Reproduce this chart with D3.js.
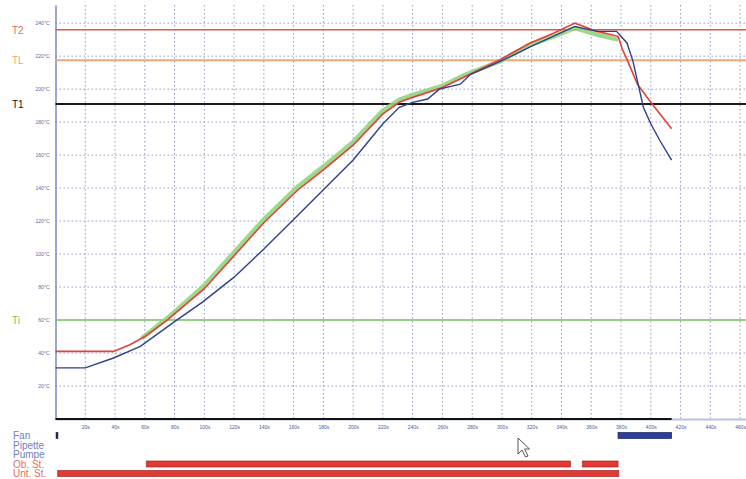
<!DOCTYPE html>
<html>
<head>
<meta charset="utf-8">
<script src="https://cdn.jsdelivr.net/npm/d3@7"></script>
<style>
  body { margin: 0; background: #fff; }
  svg { display: block; font-family: "Liberation Sans", Arial, sans-serif; }
</style>
</head>
<body>
<div id="viz"></div>
<script>
var width = 746;
var height = 479;

// time axis (s) and temperature axis (°C)
var xTicks = [20, 40, 60, 80, 100, 120, 140, 160, 180, 200, 220, 240, 260, 280, 300, 320, 340, 360, 380, 400, 420, 440, 460];
var yTicks = [20, 40, 60, 80, 100, 120, 140, 160, 180, 200, 220, 240];

// reference levels
var refNames = ['T2', 'TL', 'T1', 'Ti'];
var refValues = [236, 217.5, 191, 60];

// upper heater (red)
var redTime = [0, 20, 39, 50, 60, 75, 100, 120, 140, 163, 180, 200, 220, 231, 240, 260, 276, 299, 319, 335, 349, 364, 378, 381, 384, 391, 400, 407, 414];
var redTemp = [41, 41, 41, 45, 50, 60, 79, 99, 119, 139, 151, 166, 185, 192, 195, 201, 208, 218, 228, 234, 240, 235, 232, 224, 218, 203, 192, 184, 176];

// board sensor (blue)
var blueTime = [0, 20, 39, 52, 57, 80, 99, 120, 140, 160, 180, 200, 220, 231, 240, 250, 258, 272, 279, 297, 320, 349, 364, 377, 384, 388, 392, 395, 400, 406, 414];
var blueTemp = [31, 31, 37, 42, 44, 59, 71, 86, 103, 121, 139, 157, 179, 189, 192, 194, 200, 203, 209, 216, 226, 238, 235, 235, 228, 217, 201, 189, 179, 169, 157];

// profile band (green)
var greenTime = [58, 75, 100, 120, 140, 163, 180, 200, 220, 231, 240, 260, 276, 299, 319, 335, 349, 364, 378];
var greenTemp = [49, 61, 81, 101, 121, 141, 153, 168, 187, 193.5, 196.5, 202, 209, 217, 227, 232, 237, 233, 230];

// status rows at the bottom
var rowNames = ['Fan', 'Pipette', 'Pumpe', 'Ob. St.', 'Unt. St.'];
var barRow = ['Fan', 'Fan', 'Ob. St.', 'Ob. St.', 'Unt. St.'];
var barStart = [0.4, 378, 61, 354, 1.5];
var barEnd = [1.6, 414, 346, 378, 378.5];

var dataEnd = 414;

var x = d3.scaleLinear().domain([0, 466]).range([55.5, 749]);
var y = d3.scaleLinear().domain([0, 251]).range([419, 5]);
var row = d3.scalePoint().domain(rowNames).range([435.5, 473.5]);

var svg = d3.select('#viz').append('svg')
  .attr('width', width)
  .attr('height', height);

// grid
var gridColor = '#9199cf';
svg.append('g').selectAll('line')
  .data(yTicks).enter()
  .append('line')
  .attr('x1', x(0)).attr('x2', width)
  .attr('y1', function (d) { return y(d); })
  .attr('y2', function (d) { return y(d); })
  .style('stroke', gridColor)
  .style('stroke-width', 1)
  .style('stroke-dasharray', '1.5,2.5');

svg.append('g').selectAll('line')
  .data(xTicks).enter()
  .append('line')
  .attr('x1', function (d) { return x(d); })
  .attr('x2', function (d) { return x(d); })
  .attr('y1', y.range()[1]).attr('y2', y(0))
  .style('stroke', gridColor)
  .style('stroke-width', 1)
  .style('stroke-dasharray', '1.5,2.5');

// y axis
var yAxis = d3.axisLeft(y).tickValues(yTicks).tickSize(0).tickPadding(6)
  .tickFormat(function (d) { return d + '°C'; });
var gy = svg.append('g').attr('transform', 'translate(' + x(0) + ',0)').call(yAxis);
gy.select('.domain').style('stroke', '#7d88bb').style('stroke-width', 1.5);
gy.selectAll('text').style('font-size', '5px').style('fill', '#5a66a8');

// x axis
var xAxis = d3.axisBottom(x).tickValues(xTicks).tickSize(0).tickPadding(6)
  .tickFormat(function (d) { return d + 's'; });
var gx = svg.append('g').attr('transform', 'translate(0,' + y(0) + ')').call(xAxis);
gx.select('.domain').style('stroke', '#b9c0e2').style('stroke-width', 2);
gx.selectAll('text').style('font-size', '5px').style('fill', '#4a57a0');
gx.append('line')
  .attr('x1', x(0)).attr('x2', x(dataEnd))
  .style('stroke', '#111')
  .style('stroke-width', 2);

// reference lines
var refColors = ['#e2574a', '#f0a77a', '#1a1a1a', '#7cc25e'];
var refLabelColors = ['#e66a5c', '#f2a86a', '#111', '#80c45c'];
var refWidths = [1.6, 2, 2, 1.5];
svg.append('g').selectAll('line')
  .data(refValues).enter()
  .append('line')
  .attr('x1', x(0)).attr('x2', width)
  .attr('y1', function (d) { return y(d); })
  .attr('y2', function (d) { return y(d); })
  .style('stroke', function (d, i) { return refColors[i]; })
  .style('stroke-width', function (d, i) { return refWidths[i]; });

svg.append('g').selectAll('text')
  .data(refValues).enter()
  .append('text')
  .attr('x', 12)
  .attr('y', function (d) { return y(d) + 4; })
  .text(function (d, i) { return refNames[i]; })
  .style('font-size', '10px')
  .style('fill', function (d, i) { return refLabelColors[i]; });

// curves
var line = d3.line()
  .x(function (d) { return x(d[0]); })
  .y(function (d) { return y(d[1]); });

svg.append('path')
  .datum(d3.zip(greenTime, greenTemp))
  .attr('d', line)
  .style('fill', 'none')
  .style('stroke', '#94d47e')
  .style('stroke-opacity', 0.9)
  .style('stroke-width', 4.5)
  .style('stroke-linejoin', 'round');

svg.append('path')
  .datum(d3.zip(redTime, redTemp))
  .attr('d', line)
  .style('fill', 'none')
  .style('stroke', '#e0413a')
  .style('stroke-width', 1.6);

svg.append('path')
  .datum(d3.zip(blueTime, blueTemp))
  .attr('d', line)
  .style('fill', 'none')
  .style('stroke', '#2d3f8f')
  .style('stroke-width', 1.4);

// status rows
svg.append('g').selectAll('text')
  .data(rowNames).enter()
  .append('text')
  .attr('x', 13)
  .attr('y', function (d) { return row(d) + 3.5; })
  .text(function (d) { return d; })
  .style('font-size', '10px')
  .style('fill', function (d, i) { return i < 3 ? '#7280bc' : '#ea6c62'; });

svg.append('g').selectAll('rect')
  .data(barRow).enter()
  .append('rect')
  .attr('x', function (d, i) { return x(barStart[i]); })
  .attr('y', function (d) { return row(d) - 3; })
  .attr('width', function (d, i) { return x(barEnd[i]) - x(barStart[i]); })
  .attr('height', 6)
  .style('fill', function (d, i) {
    if (d !== 'Fan') return '#e23a34';
    return barEnd[i] - barStart[i] < 5 ? '#111' : '#2c3f94';
  })
  .style('stroke', function (d) { return d === 'Fan' ? '#1b2660' : '#9e2a24'; })
  .style('stroke-width', 0.7);

// mouse pointer from the screenshot
svg.append('path')
  .attr('transform', 'translate(518,438)')
  .attr('d', 'M0,0 L0,16 L4,12 L7.5,19 L10,18 L6.5,11 L11.5,11 Z')
  .style('fill', '#fff')
  .style('stroke', '#444')
  .style('stroke-width', 0.9);
</script>
</body>
</html>
